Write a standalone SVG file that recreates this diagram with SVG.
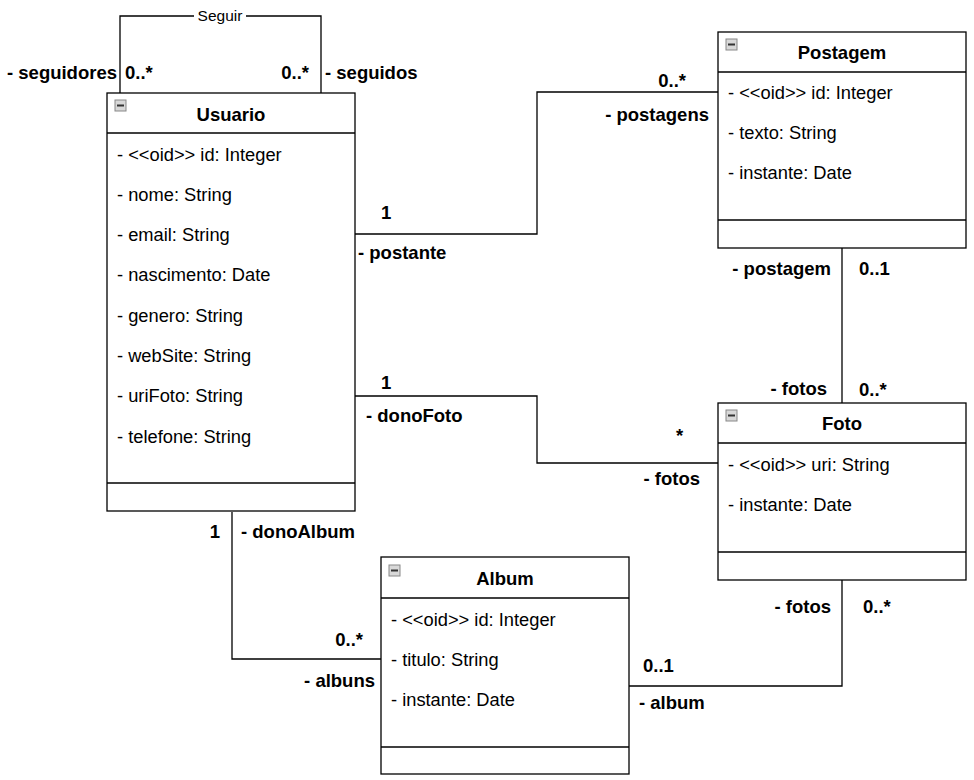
<svg xmlns="http://www.w3.org/2000/svg" width="974" height="780" viewBox="0 0 974 780">
<style>
.box{fill:#fff;stroke:#000;stroke-width:1.3}
.sep{stroke:#000;stroke-width:1.3}
.title{font-family:"Liberation Sans",Arial,sans-serif;font-size:18.5px;font-weight:bold;text-anchor:middle}
.attr{font-family:"Liberation Sans",Arial,sans-serif;font-size:18.3px}
.lbl{font-family:"Liberation Sans",Arial,sans-serif;font-size:18.5px;font-weight:bold}
.end{text-anchor:end}
.edge{fill:none;stroke:#000;stroke-width:1.3}
.small{font-family:"Liberation Sans",Arial,sans-serif;font-size:15.5px;text-anchor:middle}
</style>
<defs>
<g id="icon">
<rect x="0" y="0" width="11" height="11" fill="#d8d8d8" stroke="#888" stroke-width="1"/>
<rect x="2" y="4.5" width="7" height="2" fill="#333"/>
</g>
</defs>
<rect width="974" height="780" fill="#fff"/>
<g id="connectors">
<polyline class="edge" points="120,93 120,16 321,16 321,93"/>
<rect x="194" y="7" width="52" height="16" fill="#fff"/>
<text class="small" x="220" y="21">Seguir</text>
<polyline class="edge" points="355,234 537,234 537,92 718,92"/>
<polyline class="edge" points="355,396 537,396 537,463 718,463"/>
<polyline class="edge" points="842,248 842,403"/>
<polyline class="edge" points="232,512 232,659 381,659"/>
<polyline class="edge" points="629,686 842,686 842,580"/>
<text class="lbl end" x="117" y="79">- seguidores</text>
<text class="lbl" x="125" y="79">0..*</text>
<text class="lbl end" x="309" y="79">0..*</text>
<text class="lbl" x="325" y="79">- seguidos</text>
<text class="lbl end" x="686" y="87">0..*</text>
<text class="lbl end" x="709" y="121">- postagens</text>
<text class="lbl" x="381" y="219">1</text>
<text class="lbl" x="358" y="259">- postante</text>
<text class="lbl" x="381" y="389">1</text>
<text class="lbl" x="366" y="422">- donoFoto</text>
<text class="lbl" x="676" y="442">*</text>
<text class="lbl end" x="700" y="485">- fotos</text>
<text class="lbl end" x="831" y="275">- postagem</text>
<text class="lbl" x="859" y="275">0..1</text>
<text class="lbl end" x="827" y="395">- fotos</text>
<text class="lbl" x="859" y="396">0..*</text>
<text class="lbl end" x="220" y="538">1</text>
<text class="lbl" x="241" y="538">- donoAlbum</text>
<text class="lbl end" x="363" y="646">0..*</text>
<text class="lbl end" x="375" y="687">- albuns</text>
<text class="lbl" x="643" y="672">0..1</text>
<text class="lbl" x="639" y="709">- album</text>
<text class="lbl end" x="831" y="613">- fotos</text>
<text class="lbl" x="863" y="613">0..*</text>
</g>
<g id="usuario">
<rect class="box" x="107" y="93" width="248" height="418"/>
<line class="sep" x1="107" y1="133" x2="355" y2="133"/>
<line class="sep" x1="107" y1="483" x2="355" y2="483"/>
<use href="#icon" x="115" y="100"/>
<text class="title" x="231" y="121">Usuario</text>
<text class="attr" x="117" y="161">- &lt;&lt;oid&gt;&gt; id: Integer</text>
<text class="attr" x="117" y="201">- nome: String</text>
<text class="attr" x="117" y="241">- email: String</text>
<text class="attr" x="117" y="281">- nascimento: Date</text>
<text class="attr" x="117" y="322">- genero: String</text>
<text class="attr" x="117" y="362">- webSite: String</text>
<text class="attr" x="117" y="402">- uriFoto: String</text>
<text class="attr" x="117" y="443">- telefone: String</text>
</g>
<g id="postagem">
<rect class="box" x="718" y="32" width="248" height="216"/>
<line class="sep" x1="718" y1="72" x2="966" y2="72"/>
<line class="sep" x1="718" y1="220" x2="966" y2="220"/>
<use href="#icon" x="726" y="39"/>
<text class="title" x="842" y="59">Postagem</text>
<text class="attr" x="728" y="99">- &lt;&lt;oid&gt;&gt; id: Integer</text>
<text class="attr" x="728" y="139">- texto: String</text>
<text class="attr" x="728" y="179">- instante: Date</text>
</g>
<g id="foto">
<rect class="box" x="718" y="403" width="248" height="177"/>
<line class="sep" x1="718" y1="443" x2="966" y2="443"/>
<line class="sep" x1="718" y1="552" x2="966" y2="552"/>
<use href="#icon" x="726" y="410"/>
<text class="title" x="842" y="430">Foto</text>
<text class="attr" x="728" y="471">- &lt;&lt;oid&gt;&gt; uri: String</text>
<text class="attr" x="728" y="511">- instante: Date</text>
</g>
<g id="album">
<rect class="box" x="381" y="557" width="248" height="217"/>
<line class="sep" x1="381" y1="598" x2="629" y2="598"/>
<line class="sep" x1="381" y1="747" x2="629" y2="747"/>
<use href="#icon" x="389" y="565"/>
<text class="title" x="505" y="585">Album</text>
<text class="attr" x="391" y="626">- &lt;&lt;oid&gt;&gt; id: Integer</text>
<text class="attr" x="391" y="666">- titulo: String</text>
<text class="attr" x="391" y="706">- instante: Date</text>
</g>
</svg>
